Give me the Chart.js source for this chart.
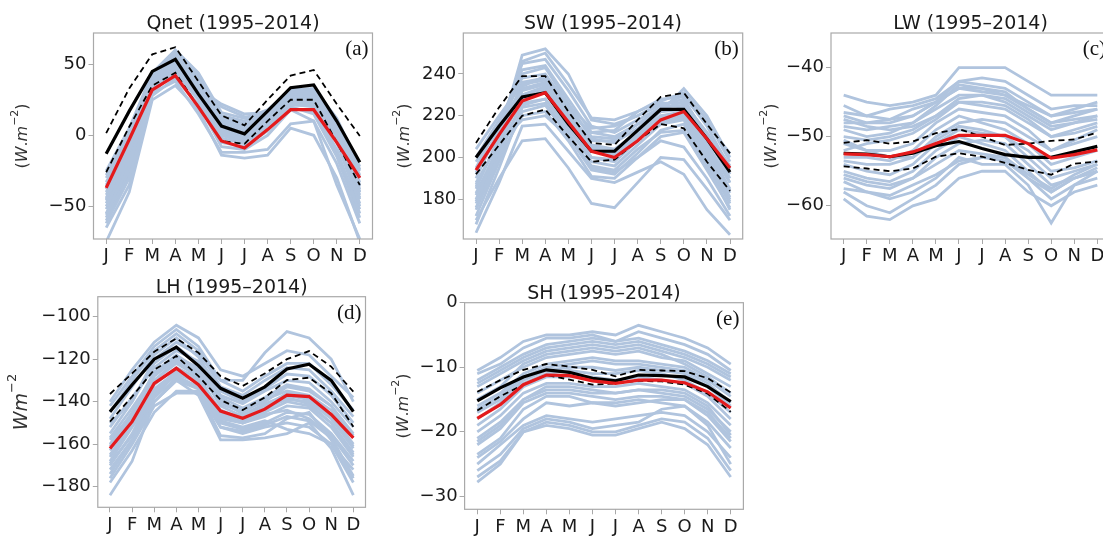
<!DOCTYPE html>
<html>
<head>
<meta charset="utf-8">
<script src="https://cdn.jsdelivr.net/npm/chart.js@4.4.0/dist/chart.umd.min.js"></script>
<style>
  body { margin: 0; background: #fff; }
  #fig { position: relative; width: 1103px; height: 536px; overflow: hidden; background: #fff; }
  #fig canvas { position: absolute; }
</style>
</head>
<body>
<div id="fig"></div>
<script>
const MONTHS = ['J', 'F', 'M', 'A', 'M', 'J', 'J', 'A', 'S', 'O', 'N', 'D'];

// ---- Qnet ----
const qnetModels = [
  [-62, -30, 30, 45, 28, 0, -5, 5, 22, 20, -10, -55],
  [-55, -22, 33, 47, 30, 2, -3, 8, 24, 24, -5, -48],
  [-50, -18, 35, 50, 33, 5, 0, 10, 25, 26, -2, -45],
  [-45, -12, 37, 52, 35, 8, 3, 12, 27, 28, 2, -40],
  [-40, -8, 38, 55, 38, 10, 5, 14, 28, 30, 5, -35],
  [-35, -5, 40, 57, 40, 12, 8, 15, 30, 31, 8, -30],
  [-30, 0, 42, 58, 42, 14, 10, 17, 31, 32, 10, -25],
  [-25, 5, 44, 60, 44, 16, 12, 18, 32, 33, 12, -22],
  [-58, -25, 32, 44, 25, -5, -8, 3, 20, 15, -15, -58],
  [-65, -35, 28, 40, 22, -8, -10, 0, 18, 10, -20, -62],
  [-75, -40, 25, 35, 18, -14, -16, -14, 5, 0, -30, -75],
  [-60, -28, 30, 38, 15, -12, -12, -10, 8, 10, -35, -73],
  [-48, -15, 36, 48, 30, 3, -2, 9, 22, 22, 0, -42],
  [-42, -10, 38, 50, 32, 6, 1, 11, 26, 27, 4, -38],
  [-38, -6, 40, 53, 34, 9, 4, 13, 27, 29, 6, -33],
  [-52, -20, 34, 46, 29, 1, -4, 6, 23, 23, -4, -50],
  [-33, -2, 41, 55, 36, 11, 6, 15, 29, 30, 8, -28],
  [-28, 2, 43, 57, 38, 13, 8, 16, 30, 31, 9, -24],
  [-46, -14, 36, 49, 31, 4, -1, 8, 21, 21, -3, -44],
  [-56, -24, 32, 43, 27, -2, -6, 4, 19, 17, -12, -52],
  [-36, -8, 39, 51, 35, 20, 13, 14, 26, 25, 3, -36],
  [-44, -12, 37, 47, 33, 22, 15, 16, 28, 28, 5, -40]
];
const qnetMean  = [-13, 17, 45, 53.5, 29, 6.5, 1, 17, 33.5, 35.5, 10, -19];
const qnetUpper = [1.5, 33, 57, 62, 38, 14, 7, 25, 42, 46, 22, -0.5];
const qnetLower = [-26, 6, 35, 44, 20, -4, -6, 10, 25, 25, -5, -35];
const qnetObs   = [-37, -3, 32, 42, 20, -4, -9, 4, 18, 18, -5, -30];

// ---- SW ----
const swModels = [
  [170, 190, 208, 209, 195, 178, 176, 188, 200, 199, 185, 170],
  [164, 188, 215, 216, 203, 190, 188, 193, 198, 192, 175, 163],
  [185, 210, 249, 252, 240, 218, 216, 220, 225, 228, 210, 190],
  [190, 214, 245, 247, 232, 215, 212, 218, 224, 230, 215, 195],
  [195, 216, 242, 244, 228, 212, 210, 216, 222, 233, 220, 200],
  [200, 218, 238, 240, 225, 214, 215, 220, 226, 226, 212, 196],
  [204, 220, 235, 237, 222, 212, 213, 222, 228, 229, 216, 202],
  [180, 205, 232, 235, 220, 205, 203, 212, 220, 222, 205, 185],
  [175, 200, 228, 232, 218, 200, 198, 208, 218, 220, 200, 180],
  [182, 206, 230, 233, 220, 203, 201, 210, 219, 221, 203, 183],
  [178, 202, 226, 228, 214, 198, 196, 206, 216, 218, 198, 178],
  [187, 208, 236, 238, 222, 206, 204, 212, 222, 224, 207, 188],
  [172, 198, 222, 225, 210, 194, 192, 202, 213, 216, 196, 175],
  [192, 212, 240, 243, 226, 209, 207, 214, 223, 227, 211, 192],
  [176, 200, 220, 222, 208, 191, 190, 200, 210, 212, 194, 176],
  [198, 215, 233, 236, 221, 208, 208, 216, 224, 225, 210, 194],
  [183, 205, 225, 228, 214, 200, 199, 210, 217, 219, 201, 181],
  [188, 207, 218, 220, 210, 196, 194, 204, 212, 213, 196, 179],
  [179, 203, 234, 239, 224, 210, 209, 216, 222, 223, 204, 184],
  [193, 211, 230, 234, 219, 204, 202, 211, 220, 221, 206, 188],
  [168, 195, 224, 226, 212, 195, 193, 200, 208, 205, 190, 172],
  [186, 209, 246, 250, 235, 219, 218, 222, 227, 231, 218, 198]
];
const swMean  = [200, 215, 229, 231, 216, 203, 203, 213, 223, 223, 209, 193];
const swUpper = [207, 224, 239, 239, 222, 207, 206, 218, 229, 231, 216, 202];
const swLower = [192, 206, 220, 223, 210, 198, 199, 208, 216, 214, 198, 184];
const swObs   = [194, 211, 227, 231, 217, 203, 200, 208, 218, 222, 209, 195];

// ---- LW ----
const lwModels = [
  [-44, -45, -45.5, -45, -44, -40, -40, -40, -42, -44, -44, -44],
  [-59, -61.5, -62, -60, -59, -56, -55, -55, -58, -60, -58, -57],
  [-47, -48, -48, -47, -45, -42, -42.5, -43, -45, -47, -46.5, -46],
  [-48, -48, -47.5, -46, -45, -43, -43, -43.5, -46, -48, -47, -46],
  [-49, -50, -49.5, -48, -46, -44, -44, -45, -47, -49, -48, -47],
  [-50, -50.5, -50, -49, -47, -45, -45.5, -46, -48, -50, -49, -48],
  [-51, -52, -52, -51, -48, -46, -46.5, -47, -49, -52, -51, -50],
  [-53, -53, -53.5, -52, -49, -47, -48, -49, -51, -54, -53, -52],
  [-54, -55, -55.5, -54, -51, -49, -49.5, -50, -53, -56, -55, -54],
  [-55, -56, -56.5, -55, -52, -50, -51, -52, -55, -58, -56, -55],
  [-56, -57, -57.5, -56, -54, -52, -52.5, -53, -56, -59, -57, -56],
  [-57.5, -58, -59, -58, -56, -53, -54, -54, -57, -62.5, -57, -55],
  [-46.5, -47, -46, -45.5, -44.5, -42, -41.5, -42, -44, -46, -45.5, -45.5],
  [-52, -51, -50.5, -49.5, -47.5, -45, -45, -45.5, -47.5, -50, -49.5, -48.5],
  [-58, -60, -61, -59, -57, -54, -53, -53.5, -56, -58, -56, -55],
  [-45.5, -47, -47.5, -47, -45, -43, -43.5, -44, -46, -48, -47.5, -47],
  [-50.5, -52, -53, -53, -50, -48, -47.5, -48, -50, -52, -50.5, -49],
  [-53.5, -54, -54, -53, -50.5, -48.5, -49, -50, -52, -55, -54.5, -53.5],
  [-55.5, -56.5, -57, -56, -53, -51, -50.5, -51, -54, -57, -56, -54.5],
  [-48.5, -49, -48.5, -48, -45.5, -42.5, -43, -44, -45.5, -47, -46, -45],
  [-56.5, -58, -58.5, -57, -55.5, -53.5, -53, -53, -55.5, -57.5, -55.5, -54],
  [-47.5, -48.5, -49, -48.5, -47, -44.5, -44, -44.5, -46.5, -48.5, -48, -47.5]
];
const lwMean  = [-52.4, -52.5, -52.9, -52.4, -51.3, -50.7, -51.7, -52.6, -53, -53, -52.2, -51.4];
const lwUpper = [-50.9, -50.5, -51, -50.7, -49.5, -48.9, -50, -51.2, -51, -50.6, -50.4, -49.4];
const lwLower = [-54.3, -54.6, -55, -54.6, -52.9, -52.4, -52.9, -53.8, -54.8, -55.5, -53.9, -53.6];
const lwObs   = [-52.5, -52.6, -52.9, -52.2, -51, -49.8, -49.8, -49.8, -51, -53.1, -52.6, -51.9];

// ---- LH ----
const lhModels = [
  [-150, -140, -120, -112, -118, -130, -130, -117, -107, -110, -120, -140],
  [-184, -168, -140, -130, -137, -158, -158, -157, -155, -150, -162, -184],
  [-176, -160, -142, -136, -136, -152, -155, -152, -150, -152, -160, -172],
  [-170, -155, -135, -128, -133, -150, -153, -150, -145, -146, -155, -168],
  [-165, -150, -130, -122, -128, -145, -150, -145, -140, -142, -150, -165],
  [-160, -145, -126, -118, -125, -142, -147, -142, -136, -138, -146, -160],
  [-155, -140, -122, -114, -122, -138, -143, -138, -132, -134, -142, -155],
  [-148, -133, -118, -110, -119, -135, -140, -134, -127, -128, -137, -150],
  [-142, -128, -114, -106, -114, -130, -135, -128, -122, -122, -132, -144],
  [-140, -125, -112, -104, -110, -125, -128, -122, -116, -118, -128, -138],
  [-172, -158, -140, -130, -134, -148, -150, -146, -144, -148, -156, -170],
  [-168, -152, -137, -127, -131, -147, -150, -147, -142, -143, -152, -166],
  [-163, -148, -132, -124, -129, -144, -148, -143, -139, -140, -148, -162],
  [-157, -143, -128, -120, -126, -141, -145, -139, -135, -137, -144, -157],
  [-178, -163, -145, -135, -135, -156, -157, -155, -148, -145, -158, -176],
  [-152, -138, -124, -116, -121, -137, -141, -135, -130, -131, -140, -152],
  [-145, -130, -116, -108, -116, -133, -137, -130, -124, -125, -135, -147],
  [-166, -151, -134, -126, -130, -146, -149, -144, -138, -141, -150, -164],
  [-174, -158, -138, -129, -133, -152, -154, -151, -147, -149, -157, -175],
  [-158, -146, -130, -121, -127, -140, -144, -140, -133, -135, -142, -156],
  [-169, -156, -136, -125, -131, -149, -152, -149, -153, -155, -160, -178],
  [-161, -147, -127, -119, -124, -139, -146, -141, -137, -139, -147, -161]
];
const lhMean  = [-144.7, -132, -120, -114.4, -123, -133.7, -138.4, -133, -124.6, -122.4, -130, -144.7];
const lhUpper = [-136.4, -126.7, -116.5, -110.2, -117, -128, -132.6, -126.7, -120, -116.2, -123.5, -135.3];
const lhLower = [-149.4, -137.6, -125, -118.5, -128, -139.2, -143.9, -138, -129.8, -128.7, -136, -151.8];
const lhObs   = [-162, -149.4, -131.4, -124.3, -132, -144.4, -147.8, -143.5, -136.9, -137.6, -146, -157];

// ---- SH ----
const shModels = [
  [-10.5, -8.5, -6, -5, -5, -4.5, -5, -3.5, -4.5, -5.5, -7, -9.5],
  [-11, -9.5, -7, -5.5, -5.5, -5, -6, -4.5, -5.5, -6.5, -8, -10.5],
  [-12, -10, -8, -6.5, -6, -5.5, -6, -5.5, -6.5, -7.5, -9, -11],
  [-13, -11, -9, -7.5, -7, -6.5, -7, -6.5, -7.5, -8.5, -10, -12],
  [-14, -12, -10, -8.5, -8, -7.5, -8, -7.5, -8.5, -9, -11, -13],
  [-16, -14, -11, -9.5, -9, -8.5, -9, -9, -9.5, -10, -12, -14.5],
  [-17, -15, -12, -10.5, -10, -10, -10.5, -10, -10.5, -11, -13, -16],
  [-19, -16.5, -13, -11.5, -11.5, -11.5, -12, -11.5, -12, -12.5, -14.5, -18],
  [-20, -17.5, -14, -12.5, -12.5, -13, -13, -12.5, -13, -13.5, -15.5, -19],
  [-21, -18.5, -15, -13, -13, -13.5, -14, -13.5, -14, -14.5, -16.5, -20],
  [-22, -19.5, -15.5, -14, -14, -14.5, -15, -14.5, -14.5, -15, -17.5, -21.5],
  [-23.5, -21, -16.5, -14.5, -14.5, -15.5, -15.5, -15, -15.5, -16, -18.5, -22.5],
  [-25, -22, -19, -17.5, -18, -18.5, -18, -17.5, -17, -17.5, -20, -24],
  [-26, -23.5, -19.5, -18, -18.5, -19.5, -19, -18.5, -16.5, -16, -19, -25],
  [-27, -24.5, -20, -18.5, -19, -20, -20, -19, -18, -18.5, -21, -26],
  [-27.8, -25, -20, -19, -19.5, -20.5, -20.5, -19.5, -18.5, -19.5, -22, -27],
  [-15, -13, -9.5, -8, -7.5, -7, -7.5, -7, -8, -9.5, -11.5, -14],
  [-18, -15.5, -12.5, -11, -10.5, -11, -11, -10.5, -11, -12, -14, -17],
  [-12.5, -10.5, -8.5, -7, -6.5, -6, -6.5, -6, -7, -8, -9.5, -11.5],
  [-21.5, -19, -15, -13.5, -13.5, -14, -14, -13.5, -13.5, -14, -16, -20.5],
  [-24, -21.5, -18, -15.5, -16, -15.5, -16, -15.5, -15, -15, -17, -21],
  [-16.5, -14.5, -11.5, -10, -9.5, -9, -9.5, -9.5, -10, -10.5, -12.5, -15.5]
];
const shMean  = [-15.2, -13.2, -11.5, -10.4, -10.8, -11.7, -12.1, -11.2, -11.3, -11.5, -13, -15.3];
const shUpper = [-13.8, -12, -10.4, -9.5, -9.9, -10.4, -11.4, -10.4, -10.5, -10.6, -11.7, -13.9];
const shLower = [-16.7, -14.5, -12.7, -11.2, -11.9, -12.7, -12.5, -12.1, -12.2, -12.7, -14.1, -16.9];
const shObs   = [-17.9, -15.8, -12.7, -11.2, -11.3, -12.1, -12.5, -12, -12, -12.4, -13.8, -16.3];

const MODEL_COLOR = '#b0c4de';
const OBS_COLOR = '#e41a1c';
const TEXT_COLOR = '#1a1a1a';
const SPINE_COLOR = '#a9a9a9';

const panels = [
  { title: 'Qnet (1995\u20132014)', letter: '(a)', models: qnetModels, mean: qnetMean, upper: qnetUpper, lower: qnetLower, obs: qnetObs,
    yMin: -73, yMax: 72, yTicks: [-50, 0, 50], unit: 'paren', labelX: 23,
    box: { l: 93.5, t: 33, r: 372.5, b: 239 }, cx: 0, cy: 0, cw: 380, ch: 270 },
  { title: 'SW (1995\u20132014)', letter: '(b)', models: swModels, mean: swMean, upper: swUpper, lower: swLower, obs: swObs,
    yMin: 161, yMax: 259.6, yTicks: [180, 200, 220, 240], unit: 'paren', labelX: 405,
    box: { l: 463.3, t: 33, r: 742.7, b: 239 }, cx: 375, cy: 0, cw: 374, ch: 270 },
  { title: 'LW (1995\u20132014)', letter: '(c)', models: lwModels, mean: lwMean, upper: lwUpper, lower: lwLower, obs: lwObs,
    yMin: -64.8, yMax: -35, yTicks: [-60, -50, -40], unit: 'paren', labelX: 772,
    box: { l: 831, t: 33, r: 1110, b: 239 }, cx: 745, cy: 0, cw: 372, ch: 270 },
  { title: 'LH (1995\u20132014)', letter: '(d)', models: lhModels, mean: lhMean, upper: lhUpper, lower: lhLower, obs: lhObs,
    yMin: -189.7, yMax: -90.6, yTicks: [-180, -160, -140, -120, -100], unit: 'plain', labelX: 22,
    box: { l: 97.8, t: 296.7, r: 365.5, b: 507.3 }, cx: 0, cy: 270, cw: 375, ch: 266 },
  { title: 'SH (1995\u20132014)', letter: '(e)', models: shModels, mean: shMean, upper: shUpper, lower: shLower, obs: shObs,
    yMin: -32, yMax: 0, yTicks: [-30, -20, -10, 0], unit: 'paren', labelX: 404,
    box: { l: 464.6, t: 302.7, r: 743.4, b: 509.3 }, cx: 375, cy: 270, cw: 374, ch: 266 }
];

const fmt = v => (v < 0 ? '\u2212' + Math.abs(v) : String(v));
const pts = arr => arr.map((v, i) => ({ x: i, y: v }));

// rotated y-axis unit label, drawn in pieces so the exponent can be raised
function drawUnit(ctx, kind, x, y) {
  const big = kind === 'plain' ? 19 : 16;
  const small = Math.round(big * 0.7);
  const parts = kind === 'plain'
    ? [['W', 'italic', big, 0], ['m', 'italic', big, 0], ['\u22122', '', small, -big * 0.42]]
    : [['(', '', big, 0], ['W', 'italic', big, 0], ['.', '', big, 0], ['m', 'italic', big, 0], ['\u22122', '', small, -big * 0.42], [')', '', big, 0]];
  ctx.save();
  ctx.translate(x, y);
  ctx.rotate(-Math.PI / 2);
  ctx.fillStyle = '#333';
  ctx.textBaseline = 'middle';
  ctx.textAlign = 'left';
  let total = 0;
  const widths = parts.map(p => {
    ctx.font = `${p[1]} ${p[2]}px "DejaVu Sans"`;
    const w = ctx.measureText(p[0]).width;
    total += w;
    return w;
  });
  let px = -total / 2;
  parts.forEach((p, i) => {
    ctx.font = `${p[1]} ${p[2]}px "DejaVu Sans"`;
    ctx.fillText(p[0], px, p[3] + (p[2] === big ? 0 : -1));
    px += widths[i];
  });
  ctx.restore();
}

const panelDecor = {
  id: 'panelDecor',
  afterDraw(chart, args, opts) {
    const { ctx, chartArea: a } = chart;
    ctx.save();
    ctx.strokeStyle = SPINE_COLOR;
    ctx.lineWidth = 1.2;
    ctx.strokeRect(a.left, a.top, a.right - a.left, a.bottom - a.top);
    ctx.fillStyle = TEXT_COLOR;
    ctx.font = '19px "DejaVu Sans"';
    ctx.textAlign = 'center';
    ctx.textBaseline = 'alphabetic';
    ctx.fillText(opts.title, (a.left + a.right) / 2, a.top - 4);
    ctx.font = '21px "Liberation Serif"';
    ctx.textAlign = 'right';
    ctx.fillStyle = '#111';
    ctx.fillText(opts.letter, a.right - 4, a.top + 22);
    ctx.restore();
    drawUnit(ctx, opts.unit, opts.labelX, (a.top + a.bottom) / 2);
  }
};

const fig = document.getElementById('fig');

panels.forEach(p => {
  const cv = document.createElement('canvas');
  cv.width = p.cw;
  cv.height = p.ch;
  cv.style.left = p.cx + 'px';
  cv.style.top = p.cy + 'px';
  fig.appendChild(cv);

  const L = p.box.l - p.cx;
  const T = p.box.t - p.cy;
  const R = p.cw - (p.box.r - p.cx);
  const B = p.ch - (p.box.b - p.cy);

  const line = (data, color, width, dash) => ({
    data: pts(data), borderColor: color, borderWidth: width, borderDash: dash || [],
    pointRadius: 0, tension: 0, fill: false
  });

  // first dataset is drawn on top
  const datasets = [
    line(p.obs, OBS_COLOR, 3.2),
    line(p.mean, '#000', 3.2),
    line(p.upper, '#000', 1.8, [6, 4]),
    line(p.lower, '#000', 1.8, [6, 4])
  ].concat(p.models.map(m => line(m, MODEL_COLOR, 2.8)));

  new Chart(cv, {
    type: 'line',
    data: { datasets },
    plugins: [panelDecor],
    options: {
      responsive: false,
      animation: false,
      devicePixelRatio: 1,
      layout: { padding: { top: T, right: R, left: 0, bottom: 0 } },
      plugins: {
        legend: { display: false },
        tooltip: { enabled: false },
        panelDecor: { title: p.title, letter: p.letter, unit: p.unit, labelX: p.labelX - p.cx }
      },
      scales: {
        x: {
          type: 'linear', min: -0.55, max: 11.55,
          afterBuildTicks: s => { s.ticks = MONTHS.map((m, i) => ({ value: i })); },
          afterFit: s => { s.height = B; },
          ticks: { callback: v => MONTHS[v], autoSkip: false, maxRotation: 0, padding: 2,
                   color: TEXT_COLOR, font: { family: 'DejaVu Sans', size: 18 } },
          grid: { drawOnChartArea: false, drawTicks: true, tickLength: 5, color: SPINE_COLOR },
          border: { display: false }
        },
        y: {
          min: p.yMin, max: p.yMax,
          afterBuildTicks: s => { s.ticks = p.yTicks.map(v => ({ value: v })); },
          afterFit: s => { s.width = L; },
          ticks: { callback: v => fmt(v), padding: 2,
                   color: TEXT_COLOR, font: { family: 'DejaVu Sans', size: 18 } },
          grid: { drawOnChartArea: false, drawTicks: true, tickLength: 5, color: SPINE_COLOR },
          border: { display: false }
        }
      }
    }
  });
});
</script>
</body>
</html>
